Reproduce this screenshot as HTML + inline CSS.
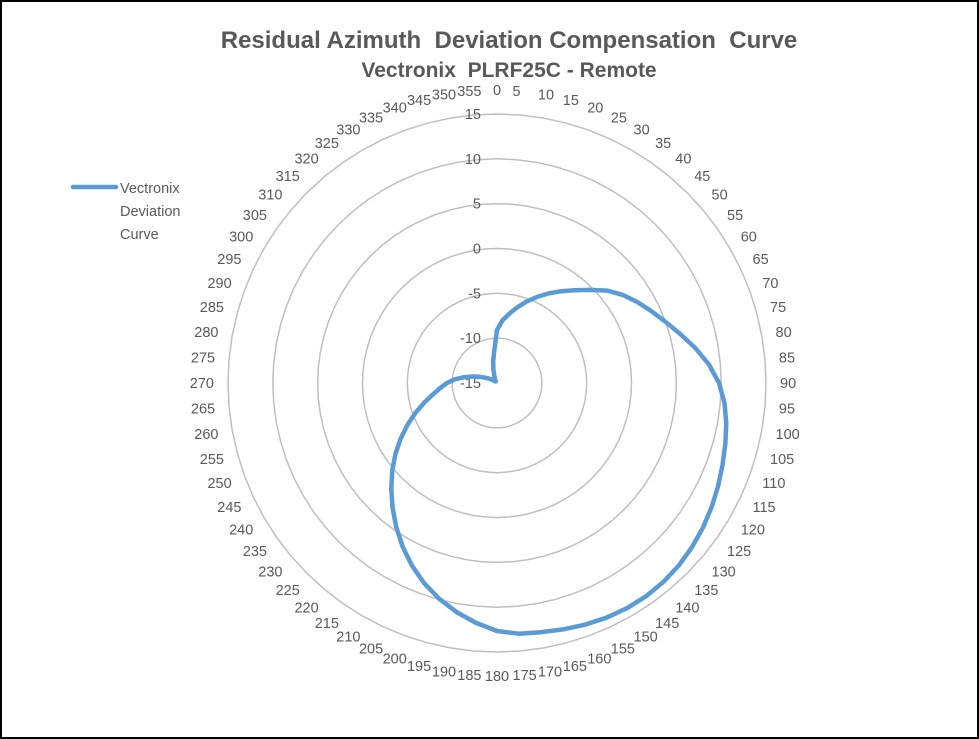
<!DOCTYPE html>
<html><head><style>
html,body{margin:0;padding:0;background:#fff;}
svg{display:block;font-family:"Liberation Sans",sans-serif;}
</style></head><body>
<svg id="s" width="979" height="739" viewBox="0 0 979 739">
<rect x="1" y="1" width="977" height="737" fill="#fff" stroke="#000" stroke-width="2"/>
<text x="509" y="48" text-anchor="middle" font-size="24" font-weight="bold" fill="#595959" xml:space="preserve">Residual Azimuth  Deviation Compensation  Curve</text>
<text x="509" y="77" text-anchor="middle" font-size="21" font-weight="bold" fill="#595959" xml:space="preserve">Vectronix  PLRF25C - Remote</text>
<line x1="73" y1="187" x2="116" y2="187" stroke="#5b9bd5" stroke-width="4.5" stroke-linecap="round"/>
<text font-size="14.5" fill="#595959"><tspan x="120" y="193">Vectronix</tspan><tspan x="120" y="216">Deviation</tspan><tspan x="120" y="239">Curve</tspan></text>
<g id="g"></g>
</svg>
<script>
var cx=497,cy=383,R=269,ns="http://www.w3.org/2000/svg",g=document.getElementById('g');
function el(t,a,txt){var e=document.createElementNS(ns,t);for(var k in a)e.setAttribute(k,a[k]);if(txt!=null)e.textContent=txt;g.appendChild(e);return e;}
function P(a,r){var t=a*Math.PI/180;return [cx+r*Math.sin(t),cy-r*Math.cos(t)];}
for(var i=1;i<=6;i++){var r=R*i/6,pts=[];for(var a=0;a<360;a+=5){var p=P(a,r);pts.push(p[0].toFixed(1)+','+p[1].toFixed(1));}
el('polygon',{points:pts.join(' '),fill:'none',stroke:'#bfbfbf','stroke-width':1.5});}
var vals=[15,10,5,0,-5,-10,-15];
for(var i=0;i<7;i++){var r=R*(6-i)/6;el('text',{x:481,y:(cy-r+5).toFixed(1),'text-anchor':'end','font-size':14.5,fill:'#595959'},vals[i]);}
for(var a=0;a<360;a+=5){var p=P(a,293);var anc='middle';if(a>3&&a<177)anc='start';if(a>183&&a<357)anc='end';
var dx=(anc=='start'?-10:anc=='end'?10:0);
el('text',{x:(p[0]+dx).toFixed(1),y:(p[1]+5).toFixed(1),'text-anchor':anc,'font-size':14.5,fill:'#595959'},a);}
var T=[[0,53],[13,75],[25,95],[42,125],[52,148],[71,181],[90,222],[110,240],[134,257],[150,260],[170,253],[180,248],[200,213],[226,147],[249,89],[260,65],[274,44],[285,25],[300,8],[320,2],[340,8],[350,22],[355,32]];
var n=T.length;
function get(i){var k=((i%n)+n)%n,off=Math.floor(i/n)*360;return [T[k][0]+off,T[k][1]];}
function rr(a){for(var i=0;i<n;i++){var p1=get(i),p2=get(i+1);if(a>=p1[0]&&a<=p2[0]){var p0=get(i-1),p3=get(i+2);var t=(a-p1[0])/(p2[0]-p1[0]);
var h=p2[0]-p1[0];var m1=(p2[1]-p0[1])/(p2[0]-p0[0])*h,m2=(p3[1]-p1[1])/(p3[0]-p1[0])*h;
var t2=t*t,t3=t2*t;return Math.max(0,(2*t3-3*t2+1)*p1[1]+(t3-2*t2+t)*m1+(-2*t3+3*t2)*p2[1]+(t3-t2)*m2);}}return 0;}
var pts=[];for(var a=0;a<360;a+=5){var p=P(a,rr(a));pts.push(p[0].toFixed(1)+','+p[1].toFixed(1));}
el('polygon',{points:pts.join(' '),fill:'none',stroke:'#5b9bd5','stroke-width':4.5,'stroke-linejoin':'round','stroke-linecap':'round'});
</script>
</body></html>
